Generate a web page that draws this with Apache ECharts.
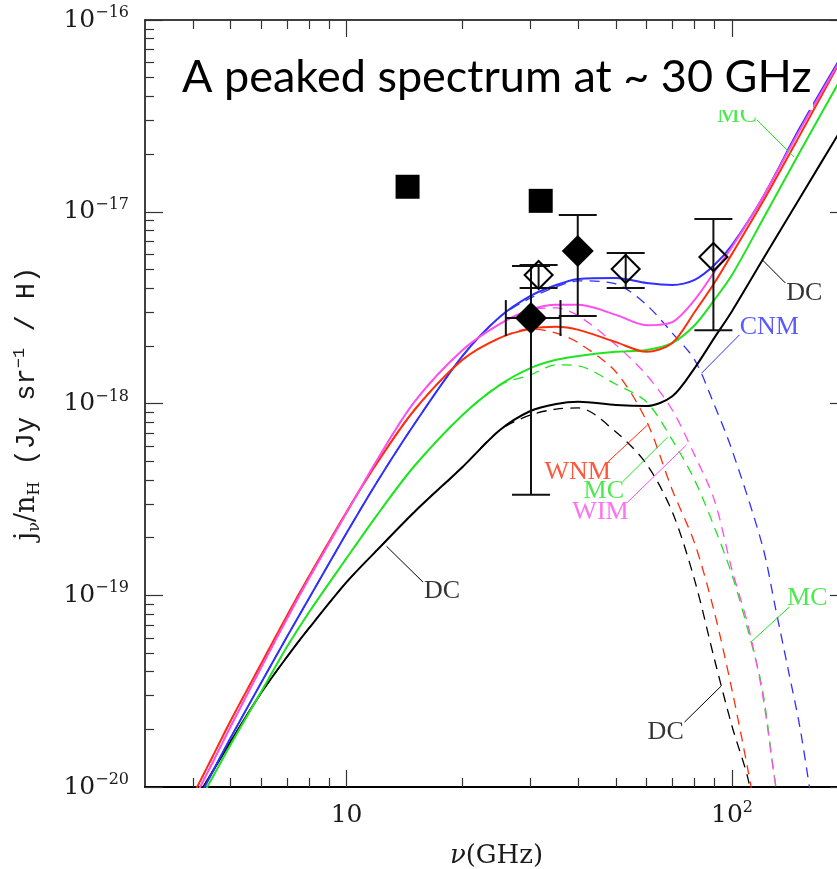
<!DOCTYPE html>
<html>
<head>
<meta charset="utf-8">
<script src="https://cdn.jsdelivr.net/npm/echarts@6/dist/echarts.min.js"></script>
<style>
html, body { margin: 0; padding: 0; background: #fff; }
#chart { width: 837px; height: 869px; }
</style>
</head>
<body>
<div id="chart"></div>
<script>
// frequency grid (GHz) for the solid curves (spinning + thermal dust)
const freq = [4, 4.5, 5, 6, 7, 8, 10, 12, 15, 20, 25, 30, 35, 40, 50, 60, 70, 80, 90, 100, 120, 150, 200];
const dcTotal  = [8.15e-21, 1.21e-20, 1.72e-20, 3.09e-20, 4.76e-20, 6.75e-20, 1.17e-19, 1.72e-19, 2.72e-19, 4.67e-19, 7.27e-19, 9.14e-19, 9.94e-19, 1.02e-18, 9.82e-19, 9.70e-19, 1.09e-18, 1.53e-18, 2.20e-18, 3.03e-18, 5.60e-18, 1.18e-17, 3.08e-17];
const mcTotal  = [7.41e-21, 1.13e-20, 1.66e-20, 3.13e-20, 5.37e-20, 8.18e-20, 1.56e-19, 2.62e-19, 4.72e-19, 8.71e-19, 1.25e-18, 1.53e-18, 1.69e-18, 1.77e-18, 1.86e-18, 1.90e-18, 2.07e-18, 2.56e-18, 3.47e-18, 4.68e-18, 9.06e-18, 2.05e-17, 5.75e-17];
const cnmTotal = [7.68e-21, 1.21e-20, 1.80e-20, 3.49e-20, 6.06e-20, 9.68e-20, 2.11e-19, 3.90e-19, 7.82e-19, 1.77e-18, 2.83e-18, 3.64e-18, 4.15e-18, 4.46e-18, 4.51e-18, 4.25e-18, 4.15e-18, 4.41e-18, 5.27e-18, 6.71e-18, 1.18e-17, 2.74e-17, 7.41e-17];
const wnmTotal = [9.09e-21, 1.45e-20, 2.21e-20, 4.38e-20, 7.80e-20, 1.26e-19, 2.72e-19, 4.90e-19, 9.25e-19, 1.69e-18, 2.20e-18, 2.45e-18, 2.51e-18, 2.42e-18, 2.09e-18, 1.86e-18, 2.07e-18, 3.00e-18, 4.25e-18, 6.03e-18, 1.12e-17, 2.51e-17, 7.23e-17];
const wimTotal = [8.46e-21, 1.35e-20, 2.06e-20, 4.18e-20, 7.52e-20, 1.23e-19, 2.69e-19, 5.08e-19, 1.02e-18, 1.90e-18, 2.60e-18, 3.08e-18, 3.27e-18, 3.27e-18, 2.90e-18, 2.56e-18, 2.66e-18, 3.47e-18, 4.85e-18, 6.55e-18, 1.18e-17, 2.67e-17, 7.23e-17];

// spinning dust only (dashed)
const dcSpinFreq = [4, 4.5, 5, 6, 7, 8, 10, 12, 15, 20, 25, 30, 35, 40, 50, 60, 70, 80, 90, 100, 110, 120];
const dcSpin     = [8.15e-21, 1.21e-20, 1.72e-20, 3.09e-20, 4.76e-20, 6.75e-20, 1.17e-19, 1.72e-19, 2.72e-19, 4.67e-19, 7.27e-19, 8.71e-19, 9.35e-19, 9.48e-19, 7.10e-19, 4.84e-19, 2.72e-19, 1.20e-19, 4.66e-20, 2.08e-20, 1.11e-20, 4.70e-21];
const wnmSpinFreq = [4, 4.5, 5, 6, 7, 8, 10, 12, 15, 20, 25, 30, 35, 40, 50, 60, 70, 80, 90, 100, 110, 120];
const wnmSpin     = [9.09e-21, 1.45e-20, 2.21e-20, 4.38e-20, 7.80e-20, 1.26e-19, 2.72e-19, 4.90e-19, 9.25e-19, 1.69e-18, 2.20e-18, 2.45e-18, 2.33e-18, 2.07e-18, 1.46e-18, 8.11e-19, 3.54e-19, 1.87e-19, 8.18e-20, 3.21e-20, 1.23e-20, 4.70e-21];
const wimSpinFreq = [4, 4.5, 5, 6, 7, 8, 10, 12, 15, 20, 25, 30, 35, 40, 50, 60, 70, 80, 90, 100, 110, 120, 130, 140];
const wimSpin     = [8.46e-21, 1.35e-20, 2.06e-20, 4.18e-20, 7.52e-20, 1.23e-19, 2.69e-19, 5.08e-19, 1.02e-18, 1.90e-18, 2.60e-18, 3.08e-18, 3.15e-18, 2.86e-18, 2.02e-18, 1.41e-18, 9.25e-19, 5.38e-19, 3.14e-19, 1.36e-19, 7.00e-20, 3.05e-20, 1.00e-20, 4.50e-21];
const mcSpinFreq = [4, 4.5, 5, 6, 7, 8, 10, 12, 15, 20, 25, 30, 35, 40, 50, 60, 70, 80, 90, 100, 110, 120, 130, 140];
const mcSpin     = [7.41e-21, 1.13e-20, 1.66e-20, 3.13e-20, 5.37e-20, 8.18e-20, 1.56e-19, 2.62e-19, 4.72e-19, 8.71e-19, 1.25e-18, 1.41e-18, 1.59e-18, 1.57e-18, 1.26e-18, 1.02e-18, 6.46e-19, 3.99e-19, 2.27e-19, 1.28e-19, 6.59e-20, 3.21e-20, 1.00e-20, 4.50e-21];
const cnmSpinFreq = [4, 4.5, 5, 6, 7, 8, 10, 12, 15, 20, 25, 30, 35, 40, 50, 60, 70, 80, 90, 100, 120, 130, 140, 150, 160];
const cnmSpin     = [7.68e-21, 1.21e-20, 1.80e-20, 3.49e-20, 6.06e-20, 9.68e-20, 2.11e-19, 3.90e-19, 7.82e-19, 1.77e-18, 2.83e-18, 3.55e-18, 4.06e-18, 4.36e-18, 4.20e-18, 3.27e-18, 2.33e-18, 1.69e-18, 9.82e-19, 5.73e-19, 1.81e-19, 8.37e-20, 4.07e-20, 2.06e-20, 9.08e-21];

// observations
const squareFreq = [14.4, 31.9];
const squareVal  = [1.35e-17, 1.14e-17];
const filledFreq = [30.1, 39.8];
const filledVal  = [2.79e-18, 6.24e-18];
const filledLo   = [3.34e-19, 2.86e-18];
const filledHi   = [5.21e-18, 9.62e-18];
const filledFreqLo = [25.9];
const filledFreqHi = [35.9];
const openFreq = [31.5, 53.0, 89.5];
const openVal  = [4.68e-18, 5.03e-18, 5.81e-18];
const openLo   = [4.00e-18, 4.00e-18, 2.41e-18];
const openHi   = [5.27e-18, 6.09e-18, 9.16e-18];

// curve labels and their leader lines
const noteText = ['DC', 'DC', 'CNM', 'WNM', 'MC', 'WIM', 'MC', 'DC', 'MC'];
const noteKey  = ['dc', 'dc', 'cnm', 'wnm', 'mc', 'wim', 'mc', 'dc', 'mc'];
const noteAt   = [[17.7, 1.05e-19], [154, 3.77e-18], [125, 2.51e-18], [39.8, 4.40e-19], [46.5, 3.50e-19], [45.6, 2.72e-19], [157, 9.68e-20], [67.3, 1.94e-20], [103, 3.20e-17]];
const noteLine = [
  [[12.7, 1.80e-19], [15.8, 1.17e-19]],
  [[120, 5.60e-18], [137.6, 4.25e-18]],
  [[104.6, 2.28e-18], [83.4, 1.44e-18]],
  [[47.6, 4.95e-19], [60.4, 7.73e-19]],
  [[52.0, 3.90e-19], [68.1, 6.68e-19]],
  [[53.6, 3.06e-19], [76.2, 6.08e-19]],
  [[141, 8.69e-20], [112, 5.70e-20]],
  [[75.3, 2.18e-20], [93.9, 3.37e-20]],
  [[116, 3.01e-17], [145, 1.93e-17]]
];

// axes
const xTickValues = [10, 100];
const xTickLabels = ['10', '10{s|2}'];
const yTickValues = [1e-20, 1e-19, 1e-18, 1e-17, 1e-16];
const yTickLabels = ['−20', '−19', '−18', '−17', '−16'];
const xMin = 3, xMax = 200, yMin = 1e-20, yMax = 1e-16;

const colors = { dc: '#000000', mc: '#1fe41f', cnm: '#2f2fff', wnm: '#ff2d0a', wim: '#ff4ef0' };
const lg = Math.log10;
const toXY = (f, v) => f.map((x, i) => [lg(x), lg(v[i])]);

const xMajor = xTickValues.map(lg);
const xMinor = [];
const yMajor = yTickValues.map(lg);
const yMinor = [];
for (let d = 0; d <= 2; d++) {
  for (let k = 2; k <= 9; k++) {
    const v = d + lg(k);
    if (v > lg(xMin) + 1e-6 && v < lg(xMax) - 1e-6) xMinor.push(v);
  }
}
for (let d = -20; d < -16; d++) {
  for (let k = 2; k <= 9; k++) yMinor.push(d + lg(k));
}

const serif = 'DejaVu Serif';
const tickStyle = { color: '#333', width: 1.2 };

function xAxisCfg(pos, ticks, len, main) {
  return {
    type: 'value', position: pos, min: lg(xMin), max: lg(xMax),
    axisLine: { show: main, onZero: false, lineStyle: { color: '#000', width: pos === 'bottom' ? 2 : 1.5 } },
    axisTick: { show: true, inside: true, length: len, customValues: ticks, lineStyle: tickStyle },
    axisLabel: (main && pos === 'bottom') ? {
      show: true, customValues: xMajor, margin: 13,
      formatter: v => xTickLabels[xMajor.findIndex(t => Math.abs(t - v) < 1e-6)],
      fontFamily: serif, fontSize: 25, color: '#1a1a1a', lineHeight: 30,
      rich: { s: { fontFamily: serif, fontSize: 16, lineHeight: 20, verticalAlign: 'top', color: '#1a1a1a' } }
    } : { show: false },
    splitLine: { show: false }
  };
}
function yAxisCfg(pos, ticks, len, main) {
  return {
    type: 'value', position: pos, min: lg(yMin), max: lg(yMax),
    axisLine: { show: main, onZero: false, lineStyle: { color: '#000', width: 1.5 } },
    axisTick: { show: true, inside: true, length: len, customValues: ticks, lineStyle: tickStyle },
    axisLabel: (main && pos === 'left') ? {
      show: true, customValues: yMajor, margin: 16,
      formatter: v => '{b|10}{s|' + yTickLabels[yMajor.findIndex(t => Math.abs(t - v) < 1e-6)] + '}',
      rich: {
        b: { fontFamily: serif, fontSize: 25, lineHeight: 30, color: '#1a1a1a' },
        s: { fontFamily: serif, fontSize: 16, lineHeight: 20, verticalAlign: 'top', color: '#1a1a1a' }
      }
    } : { show: false },
    splitLine: { show: false }
  };
}

const xAxes = [
  xAxisCfg('bottom', xMajor, 17, true),
  xAxisCfg('bottom', xMinor, 9, false),
  xAxisCfg('top', xMajor, 17, true),
  xAxisCfg('top', xMinor, 9, false)
];
xAxes[0].name = '{i|ν}{r|(GHz)}';
xAxes[0].nameLocation = 'middle';
xAxes[0].nameGap = 56;
xAxes[0].nameTextStyle = {
  rich: {
    i: { fontFamily: serif, fontStyle: 'italic', fontSize: 26, color: '#1a1a1a' },
    r: { fontFamily: serif, fontSize: 26, color: '#1a1a1a' }
  }
};

const yAxes = [
  yAxisCfg('left', yMajor, 18, true),
  yAxisCfg('left', yMinor, 9, false),
  yAxisCfg('right', yMajor, 18, true),
  yAxisCfg('right', yMinor, 9, false)
];
yAxes[0].name = '{r|j}{sub|ν}{r|/n}{sub|H}{m| (Jy sr}{sup|−1}{m| / H)}';
yAxes[0].nameLocation = 'middle';
yAxes[0].nameGap = 102;
yAxes[0].nameTextStyle = {
  rich: {
    r: { fontFamily: serif, fontSize: 27, lineHeight: 32, color: '#1a1a1a' },
    m: { fontFamily: 'Liberation Mono', fontSize: 27, lineHeight: 32, color: '#1a1a1a' },
    sub: { fontFamily: serif, fontSize: 16, lineHeight: 20, verticalAlign: 'bottom', color: '#1a1a1a' },
    sup: { fontFamily: 'Liberation Mono', fontSize: 17, lineHeight: 20, verticalAlign: 'top', color: '#1a1a1a' }
  }
};

function solid(f, v, color) {
  return { type: 'line', data: toXY(f, v), symbol: 'none', smooth: 0.3, clip: true, z: 3,
    lineStyle: { color: color, width: 2 } };
}
function dashed(f, v, color) {
  return { type: 'line', data: toXY(f, v), symbol: 'none', smooth: 0.3, clip: true, z: 2,
    lineStyle: { color: color, width: 1.3, type: [10, 7] } };
}

const ink = { stroke: '#111', lineWidth: 2 };
function vErr(params, api) {
  const a = api.coord([api.value(0), api.value(1)]);
  const b = api.coord([api.value(0), api.value(2)]);
  const w = 19;
  return { type: 'group', children: [
    { type: 'line', shape: { x1: a[0], y1: a[1], x2: b[0], y2: b[1] }, style: ink },
    { type: 'line', shape: { x1: a[0] - w, y1: a[1], x2: a[0] + w, y2: a[1] }, style: ink },
    { type: 'line', shape: { x1: b[0] - w, y1: b[1], x2: b[0] + w, y2: b[1] }, style: ink }
  ] };
}
function hErr(params, api) {
  const a = api.coord([api.value(0), api.value(2)]);
  const b = api.coord([api.value(1), api.value(2)]);
  const h = 18;
  return { type: 'group', children: [
    { type: 'line', shape: { x1: a[0], y1: a[1], x2: b[0], y2: b[1] }, style: ink },
    { type: 'line', shape: { x1: a[0], y1: a[1] - h, x2: a[0], y2: a[1] + h }, style: ink },
    { type: 'line', shape: { x1: b[0], y1: b[1] - h, x2: b[0], y2: b[1] + h }, style: ink }
  ] };
}

const vErrData = filledFreq.map((f, i) => [lg(f), lg(filledLo[i]), lg(filledHi[i])])
  .concat(openFreq.map((f, i) => [lg(f), lg(openLo[i]), lg(openHi[i])]));
const hErrData = filledFreqLo.map((f, i) => [lg(f), lg(filledFreqHi[i]), lg(filledVal[i])]);

const series = [
  dashed(dcSpinFreq, dcSpin, colors.dc),
  dashed(wnmSpinFreq, wnmSpin, colors.wnm),
  dashed(mcSpinFreq, mcSpin, colors.mc),
  dashed(wimSpinFreq, wimSpin, colors.wim),
  dashed(cnmSpinFreq, cnmSpin, colors.cnm),
  solid(freq, dcTotal, colors.dc),
  solid(freq, mcTotal, colors.mc),
  solid(freq, cnmTotal, colors.cnm),
  solid(freq, wnmTotal, colors.wnm),
  solid(freq, wimTotal, colors.wim),
  { type: 'custom', renderItem: vErr, data: vErrData, encode: { x: 0, y: [1, 2] }, z: 4 },
  { type: 'custom', renderItem: hErr, data: hErrData, encode: { x: [0, 1], y: 2 }, z: 4 },
  { type: 'scatter', data: toXY(squareFreq, squareVal), symbol: 'rect', symbolSize: 24,
    itemStyle: { color: '#000', opacity: 1 }, z: 5 },
  { type: 'scatter', data: toXY(filledFreq, filledVal), symbol: 'diamond', symbolSize: 32,
    itemStyle: { color: '#000', opacity: 1 }, z: 5 },
  { type: 'scatter', data: toXY(openFreq, openVal), symbol: 'diamond', symbolSize: 28,
    itemStyle: { color: 'rgba(0,0,0,0)', borderColor: '#000', borderWidth: 2, opacity: 1 }, z: 5 },
  { type: 'lines', coordinateSystem: 'cartesian2d', z: 4,
    data: noteLine.map((seg, i) => ({
      coords: seg.map(p => [lg(p[0]), lg(p[1])]),
      lineStyle: { color: colors[noteKey[i]], width: 1, opacity: 1 }
    })) },
  { type: 'scatter', symbol: 'circle', symbolSize: 1, z: 6,
    itemStyle: { color: 'rgba(0,0,0,0)' },
    label: { show: true, position: 'inside', fontFamily: 'Liberation Serif', fontSize: 26 },
    data: noteAt.map((p, i) => ({
      value: [lg(p[0]), lg(p[1])],
      label: { formatter: noteText[i], color: colors[noteKey[i]] }
    })) }
];

const chart = echarts.init(document.getElementById('chart'));
chart.setOption({
  animation: false,
  backgroundColor: '#fff',
  grid: { left: 145, top: 20, right: -11, bottom: 82, outerBoundsMode: 'none', containLabel: false },
  xAxis: xAxes,
  yAxis: yAxes,
  series: series,
  graphic: [
    { type: 'rect', shape: { x: 168, y: 40, width: 645, height: 70 }, style: { fill: '#fff' }, z: 50 },
    { type: 'text', x: 182, y: 77, z: 51,
      style: { text: 'A peaked spectrum at ~ 30 GHz', font: '45px Lato', fill: '#000', verticalAlign: 'middle' } }
  ]
});
</script>
</body>
</html>
